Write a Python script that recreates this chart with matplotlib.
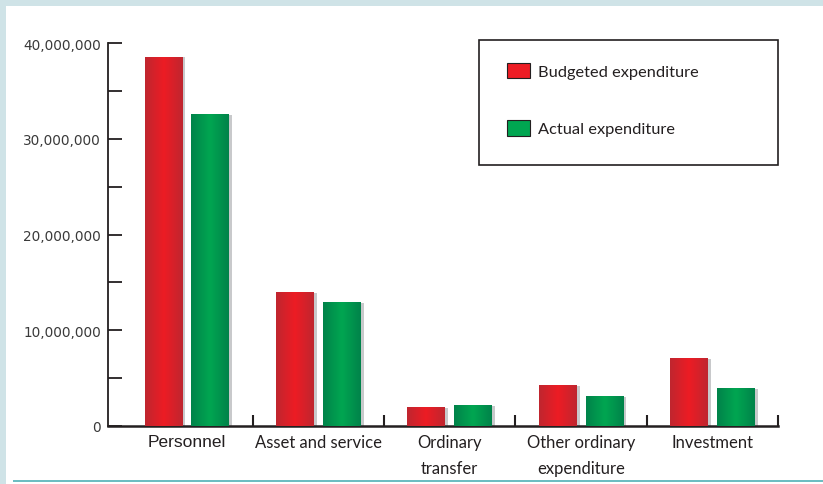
import numpy as np
import matplotlib.pyplot as plt
from matplotlib.colors import LinearSegmentedColormap
from matplotlib.patches import Rectangle, Patch

# data
categories = ['Personnel', 'Asset and service', 'Ordinary\ntransfer',
              'Other ordinary\nexpenditure', 'Investment']
budgeted = [38.5e6, 13.9e6, 1.9e6, 4.2e6, 7.0e6]
actual = [32.5e6, 12.85e6, 2.1e6, 3.05e6, 3.9e6]
ytick_vals = [0, 10e6, 20e6, 30e6, 40e6]
ytick_labels = ['0', '10,000,000', '20,000,000', '30,000,000', '40,000,000']

W, H = 823, 485
fig = plt.figure(figsize=(W / 100, H / 100), dpi=100)
ax = fig.add_axes([108 / W, 58 / H, 670 / W, 383 / H])

dark = '#231f20'
narrow = ['Lato', 'DejaVu Sans']
red_cmap = LinearSegmentedColormap.from_list('r', ['#c0262f', '#ed1c24', '#c0262f'])
green_cmap = LinearSegmentedColormap.from_list('g', ['#00834a', '#00a651', '#00834a'])
grad = np.linspace(0, 1, 64).reshape(1, -1)

x = np.arange(len(categories))
w = 0.285
off = 0.178
shift = 0.025

# grey shadows behind the bars
ax.bar(x - off + shift, budgeted, w, color='#c8c9cb', zorder=2)
ax.bar(x + off + shift, actual, w, color='#c8c9cb', zorder=2)
b1 = ax.bar(x - off, budgeted, w, color='none', zorder=3)
b2 = ax.bar(x + off, actual, w, color='none', zorder=3)

for bars, cmap in ((b1, red_cmap), (b2, green_cmap)):
    for bar in bars:
        x0, bw, bh = bar.get_x(), bar.get_width(), bar.get_height()
        ax.imshow(grad, extent=(x0, x0 + bw, 0, bh), cmap=cmap,
                  aspect='auto', zorder=3, interpolation='bilinear')

ax.set_xlim(-0.6, 4.5)
ax.set_ylim(0, 40e6)

for s in ['top', 'right']:
    ax.spines[s].set_visible(False)
ax.spines['left'].set_color(dark)
ax.spines['left'].set_linewidth(1.3)
ax.spines['bottom'].set_color(dark)
ax.spines['bottom'].set_linewidth(1.8)

ax.set_yticks(ytick_vals)
ax.set_yticklabels(ytick_labels, fontsize=9.8, color='#3a3a3a')
ax.set_yticks(np.arange(5e6, 40e6, 10e6), minor=True)
ax.tick_params(axis='y', which='both', direction='in', length=10, width=1.3,
               color=dark, pad=5)

ax.set_xticks(x)
ax.set_xticklabels(categories, fontsize=12, linespacing=1.75,
                   family=narrow, color=dark)
ax.get_xticklabels()[0].set_family(['Liberation Sans', 'DejaVu Sans'])
ax.get_xticklabels()[0].set_fontsize(12.5)
ax.set_xticks(x + 0.5, minor=True)
ax.tick_params(axis='x', which='major', length=0, pad=6)
ax.tick_params(axis='x', which='minor', direction='in', length=8, width=1.5,
               color=dark)

# legend frame and entries
fig.add_artist(Rectangle((479 / W, 1 - 166 / H), 299 / W, 125 / H,
                         transform=fig.transFigure, fill=False,
                         edgecolor=dark, lw=1.2))
handles = [Patch(facecolor='#ed1c24', edgecolor=dark, lw=0.8),
           Patch(facecolor='#00a651', edgecolor=dark, lw=0.8)]
fig.legend(handles, ['Budgeted expenditure', 'Actual expenditure'],
           loc='upper left', bbox_to_anchor=(507 / W, 1 - 64 / H),
           frameon=False, borderpad=0, borderaxespad=0,
           handlelength=1.38, handleheight=1.06, handletextpad=0.5,
           labelspacing=2.5,
           prop={'family': narrow, 'size': 11.8},
           labelcolor=dark)

# page border decoration
fig.add_artist(Rectangle((0, 1 - 7 / H), 1, 7 / H, transform=fig.transFigure,
                         color='#cfe3e7', lw=0))
fig.add_artist(Rectangle((0, 0), 6 / W, 1, transform=fig.transFigure,
                         color='#cfe3e7', lw=0))
fig.add_artist(Rectangle((13 / W, 2 / H), 1, 2 / H, transform=fig.transFigure,
                         color='#6cbdc2', lw=0))

fig.savefig('out.png', dpi=100)
